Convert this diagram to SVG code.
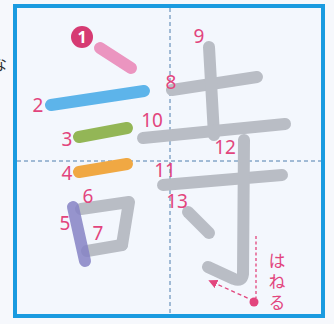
<svg xmlns="http://www.w3.org/2000/svg" width="334" height="324" viewBox="0 0 334 324">
<defs>
<style>
.lbl{font-family:"Noto Sans","Liberation Sans",sans-serif;font-size:19px;fill:#e2457d;text-anchor:middle}
.st{fill:none;stroke-linecap:round;stroke-linejoin:round;stroke-width:12}
.gray{stroke:#b9bdc5}
.guide{stroke:#4f7fae;stroke-width:1;stroke-dasharray:4 3;fill:none}
.hane{font-family:"Noto Sans CJK JP","Noto Sans",sans-serif;font-size:17px;fill:#e2457d;writing-mode:vertical-rl;letter-spacing:4px}
</style>
<marker id="arr" viewBox="0 0 10 10" refX="8" refY="5" markerWidth="7" markerHeight="7" orient="auto">
<path d="M0,0 L10,5 L0,10 z" fill="#e2457d"/>
</marker>
</defs>
<rect x="0" y="0" width="334" height="324" fill="#f6f8fc"/>
<text x="-9" y="70" font-family="Noto Sans CJK JP, sans-serif" font-size="16" fill="#333">な</text>
<rect id="frame" x="15" y="6" width="308" height="310" fill="#f3f7fd" stroke="#1a9be0" stroke-width="4"/>
<g id="guides">
<line class="guide" x1="170" y1="8" x2="170" y2="314"/>
<line class="guide" x1="17" y1="161" x2="321" y2="161"/>
</g>
<g id="s1"><path class="st" d="M100,48 L131,68" stroke="#eb95c0" stroke-width="11"/>
<circle cx="82" cy="37" r="11" fill="#d63b73"/>
<text x="82" y="43" font-family="Noto Sans, sans-serif" font-size="16" font-weight="bold" fill="#fff" text-anchor="middle">1</text></g>
<g id="s2"><path class="st" d="M51,105 L144,91" stroke="#5db4ea" stroke-width="13"/><text class="lbl" x="38" y="112">2</text></g>
<g id="s3"><path class="st" d="M79,137 L127,128" stroke="#93b656"/><text class="lbl" x="67" y="146">3</text></g>
<g id="s4"><path class="st" d="M79,172 L127,164" stroke="#f0a843" stroke-width="11"/><text class="lbl" x="67" y="180">4</text></g>
<g id="s6"><path class="st gray" d="M81,209 L129,202 L122,245"/><text class="lbl" x="88" y="203">6</text></g>
<g id="s7"><path class="st gray" d="M87,251 L122,245"/><text class="lbl" x="98" y="240">7</text></g>
<g id="s5"><path class="st" d="M73,207 L85,261" stroke="#8583c4" stroke-opacity="0.85" stroke-width="13"/><text class="lbl" x="65" y="230">5</text></g>
<g id="s8"><path class="st gray" d="M172,90 L257,77"/><text class="lbl" x="171" y="89">8</text></g>
<g id="s9"><path class="st gray" d="M209,47 L214,135"/><text class="lbl" x="199" y="43">9</text></g>
<g id="s10"><path class="st gray" d="M143,138 L285,124"/><text class="lbl" x="152" y="127">10</text></g>
<g id="s11"><path class="st gray" d="M163,185 L282,175"/><text class="lbl" x="165" y="177">11</text></g>
<g id="s12"><path class="st gray" d="M244,140 L243,274 Q242,282 234,279 L208,267"/><text class="lbl" x="225" y="154">12</text></g>
<g id="s13"><path class="st gray" d="M188,212 L209,233"/><text class="lbl" x="177" y="208">13</text></g>
<g id="connectors">
<line x1="256" y1="236" x2="256" y2="298" stroke="#e2457d" stroke-width="1.3" stroke-dasharray="3 2.5"/>
<line x1="254" y1="301" x2="210" y2="281" stroke="#e2457d" stroke-width="1.3" stroke-dasharray="4 3" marker-end="url(#arr)"/>
<circle cx="254" cy="302" r="4.5" fill="#e2457d"/>
</g>
<g id="hane">
<text class="hane" x="277" y="252">はねる</text>
</g>
</svg>
